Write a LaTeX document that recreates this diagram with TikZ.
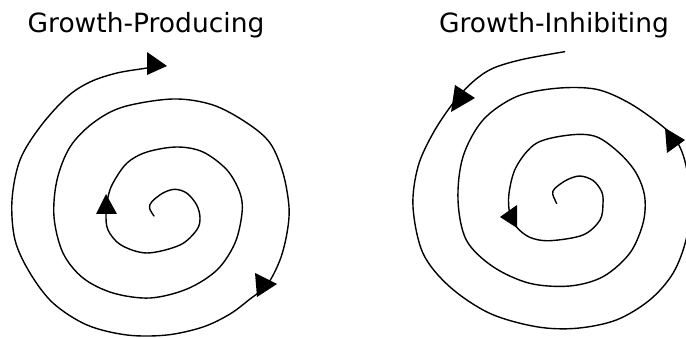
\documentclass[tikz,border=0pt]{standalone}
\usepackage{fontspec}
\setmainfont{DejaVu Sans}
\begin{document}
\begin{tikzpicture}[x=1pt,y=-1pt,
  spiral/.style={line width=1.4pt,line join=round,line cap=round},
  tip/.style={fill=black},
  label/.style={font=\fontsize{26.5}{30}\selectfont,inner sep=0pt,anchor=base}]
\useasboundingbox (0,0) rectangle (686,339);
\clip (0,0) rectangle (686,339);
% titles
\node[label] (tl) at (146,32.5) {Growth-Producing};
\node[label] (tr) at (554,32.5) {Growth-Inhibiting};
% left spiral (growth-producing)
\draw[spiral] plot[smooth,tension=0.55] coordinates {
 (154,216) (149.5,208) (152,201.5) (163,193) (175,189.3) (187,193.3) (196.7,205) (200,218) (196.7,230)
 (180,245) (147,253) (121,245) (108,230) (106,213) (108,197) (113,183) (127,163) (147,152) (177,147)
 (203,152) (227,170) (240,193) (242,213) (235,243) (217,270) (187,289) (150,298)
 (113,293) (83,278) (63,253) (54,217) (57,180) (70,147) (93,123) (123,107) (173,99)
 (213,105) (247,123) (270,143) (283,173) (289,207) (287,233) (280,260) (267,285)
 (250,299) (230,314) (203,327) (167,335) (127,335) (87,325) (53,303) (30,273)
 (15,240) (12,200) (20,160) (40,127) (67,97) (90,82) (117,73) (147,68) (163,65)};
\fill[tip] (255,273) -- (277,284) -- (257,297) -- cycle;
\fill[tip] (106,194) -- (96,214) -- (117,214) -- cycle;
\fill[tip] (147,52) -- (167,66) -- (147,75) -- cycle;
% right spiral (growth-inhibiting)
\draw[spiral] plot[smooth,tension=0.55] coordinates {
 (556.7,203.5) (552.7,194) (555,188.3) (566.7,180) (580,176) (593.3,180.7) (601.7,191.7) (603,203.3) (600,220)
 (583,235) (549.7,240.7) (529.7,237.3) (516.3,226.7) (509.7,213.3) (509,193.3) (516.3,166.7)
 (536.3,143.3) (569.7,135) (596.3,136.7) (619.7,153.3) (636.3,173.3) (644.7,196.7) (643,223.3)
 (629.7,253.3) (603,276.7) (569.7,286) (529.7,283.3) (493,266.7) (466.3,240) (458,200)
 (463,156.7) (483,120) (516.3,96.7) (556.3,88.3) (596.3,89.3) (629.7,103.3) (663,126.7)
 (678,143.3) (686.5,168) (690,205) (686,240) (673,273.3) (649.7,300) (616.3,320) (576.3,328.3)
 (536.3,326.7) (489.7,313.3) (449.7,286.7) (423,253.3) (413,206.7) (418,166.7) (433,133.3)
 (453,103.3) (473,81.7) (493,68.3) (523,59.3) (564.7,51.7)};
\fill[tip] (455,85) -- (475,98) -- (451,112) -- cycle;
\fill[tip] (665,128) -- (685,140) -- (667,153) -- cycle;
\fill[tip] (500,217) -- (517,205) -- (517,228) -- cycle;
\end{tikzpicture}
\end{document}
